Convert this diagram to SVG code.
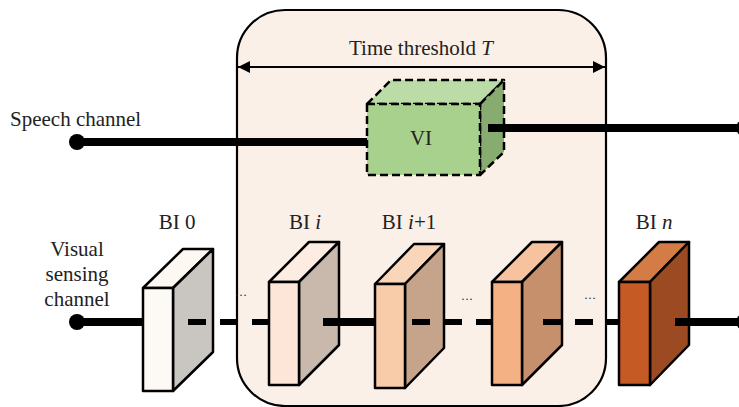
<svg xmlns="http://www.w3.org/2000/svg" width="739" height="407" viewBox="0 0 739 407">
  <style>
    text { font-family: "Liberation Serif", "DejaVu Serif", serif; fill: #222; }
    .lbl { font-size: 21px; }
    .dots { font-size: 12px; }
    .edge { stroke: #000; stroke-width: 2.5; stroke-linejoin: round; }
    .vi { stroke: #000; stroke-width: 2.5; stroke-dasharray: 8 4; stroke-linejoin: round; }
    .solid { stroke: #000; stroke-width: 8; fill: none; }
    .dash { stroke: #000; stroke-width: 6; fill: none; stroke-dasharray: 18 14; }
  </style>
  <defs>
    <marker id="arr" viewBox="0 0 10 10" refX="10" refY="5" markerWidth="6" markerHeight="6" orient="auto-start-reverse">
      <path d="M0,0 L10,5 L0,10 z" fill="#000"/>
    </marker>
  </defs>

  <!-- time window -->
  <g id="window">
    <rect x="237" y="10" width="369" height="396" rx="48" ry="48" fill="#fbf0e7" stroke="#000" stroke-width="2.2"/>
    <line x1="238" y1="67" x2="605" y2="67" stroke="#000" stroke-width="2" marker-start="url(#arr)" marker-end="url(#arr)"/>
    <text class="lbl" x="421" y="55" text-anchor="middle">Time threshold <tspan font-style="italic">T</tspan></text>
  </g>

  <!-- channel labels -->
  <g id="speech-label">
    <text class="lbl" x="10" y="126">Speech channel</text>
  </g>
  <g id="visual-label">
    <text class="lbl" x="77" y="256" text-anchor="middle">Visual</text>
    <text class="lbl" x="77" y="281" text-anchor="middle">sensing</text>
    <text class="lbl" x="77" y="306" text-anchor="middle">channel</text>
  </g>

  <!-- ellipses between blocks -->
  <g id="ellipses">
    <text class="dots" x="241" y="296" text-anchor="middle">…</text>
    <text class="dots" x="467" y="300" text-anchor="middle">…</text>
    <text class="dots" x="590" y="299" text-anchor="middle">…</text>
  </g>

  <!-- VI block -->
  <g id="vi">
    <polygon class="vi" points="367,104 391,80 504,80 480,104" fill="#bbdca6"/>
    <polygon class="vi" points="480,104 504,80 504,152 480,175" fill="#88ab70"/>
    <rect class="vi" x="367" y="104" width="113" height="71" fill="#a9d18e"/>
    <text class="lbl" x="421" y="145" text-anchor="middle">VI</text>
  </g>

  <!-- BI 0 -->
  <g id="bi0">
    <polygon class="edge" points="143,288 183,249 213,249 173,288" fill="#fdf8f2"/>
    <polygon class="edge" points="173,288 213,249 213,352 173,391" fill="#c9c5c1"/>
    <rect class="edge" x="143" y="288" width="30" height="103" fill="#fdf9f4"/>
    <text class="lbl" x="177" y="229" text-anchor="middle">BI 0</text>
  </g>

  <!-- BI i -->
  <g id="bi-i">
    <polygon class="edge" points="269,282 309,242 339,242 299,282" fill="#fdece1"/>
    <polygon class="edge" points="299,282 339,242 339,345 299,385" fill="#c9b8ac"/>
    <rect class="edge" x="269" y="282" width="30" height="103" fill="#fde5d8"/>
    <text class="lbl" x="305" y="229" text-anchor="middle">BI <tspan font-style="italic">i</tspan></text>
  </g>

  <!-- BI i+1 -->
  <g id="bi-i1">
    <polygon class="edge" points="375,284 414,244 444,244 405,284" fill="#f9d5ba"/>
    <polygon class="edge" points="405,284 444,244 444,348 405,388" fill="#c6a38b"/>
    <rect class="edge" x="375" y="284" width="30" height="104" fill="#f8cba9"/>
    <text class="lbl" x="409" y="229" text-anchor="middle">BI <tspan font-style="italic">i</tspan>+1</text>
  </g>

  <!-- intermediate block -->
  <g id="bi-k">
    <polygon class="edge" points="492,282 532,242 562,242 522,282" fill="#f7c39f"/>
    <polygon class="edge" points="522,282 562,242 562,345 522,385" fill="#c6906c"/>
    <rect class="edge" x="492" y="282" width="30" height="103" fill="#f4b183"/>
  </g>

  <!-- BI n -->
  <g id="bi-n">
    <polygon class="edge" points="619,282 659,242 689,242 650,282" fill="#d47c45"/>
    <polygon class="edge" points="650,282 689,242 689,345 650,385" fill="#9c4a22"/>
    <rect class="edge" x="619" y="282" width="31" height="103" fill="#c55a25"/>
    <text class="lbl" x="654" y="229" text-anchor="middle">BI <tspan font-style="italic">n</tspan></text>
  </g>

  <!-- connectors -->
  <g id="connectors">
    <!-- speech channel -->
    <line class="solid" x1="77" y1="142" x2="367" y2="142"/>
    <circle cx="77" cy="142" r="8" fill="#000"/>
    <line class="solid" x1="488" y1="128" x2="744" y2="128"/>
    <circle cx="744" cy="128" r="8" fill="#000"/>
    <!-- visual sensing channel -->
    <line class="solid" x1="77" y1="322" x2="143" y2="322"/>
    <circle cx="77" cy="322" r="8" fill="#000"/>
    <line class="dash" x1="188" y1="322" x2="269" y2="322" stroke-dasharray="19 13"/>
    <line class="solid" x1="323" y1="322" x2="375" y2="322"/>
    <line class="dash" x1="412" y1="322" x2="492" y2="322" stroke-dasharray="18 15"/>
    <line class="dash" x1="543" y1="322" x2="619" y2="322" stroke-dasharray="19 14"/>
    <line class="solid" x1="675" y1="322" x2="744" y2="322"/>
    <circle cx="744" cy="322" r="8" fill="#000"/>
  </g>
</svg>
